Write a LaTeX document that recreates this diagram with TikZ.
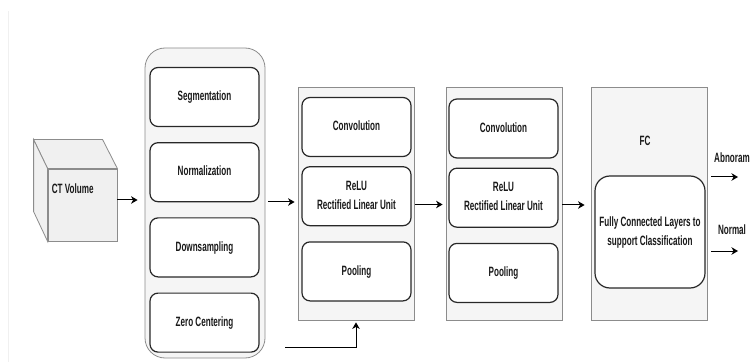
\documentclass[tikz,border=0pt]{standalone}
\usepackage{fontspec}
\setmainfont{Liberation Sans}
\usepackage{graphicx}
\usetikzlibrary{positioning,calc,arrows.meta}
\newcommand{\nar}[1]{\scalebox{0.6}[1]{\begin{tabular}{@{}c@{}}#1\end{tabular}}}
\definecolor{panelfill}{RGB}{245,245,245}
\definecolor{panelline}{RGB}{140,140,140}
\definecolor{boxline}{RGB}{40,40,40}
\definecolor{cubefill}{RGB}{240,240,240}
\definecolor{inktext}{RGB}{25,25,25}

\begin{document}
\begin{tikzpicture}[x=1pt, y=1pt,
  txt/.style={font=\fontsize{13.5}{19}\selectfont\bfseries, text=inktext, inner sep=0pt},
  panel/.style={draw=panelline, line width=0.8pt, fill=panelfill, inner sep=0pt},
  prepbox/.style={panel, rounded corners=20pt, minimum width=120pt, minimum height=310pt},
  layer/.style={panel, minimum width=116pt, minimum height=233pt},
  op/.style={txt, draw=boxline, line width=1.2pt, fill=white, rounded corners=8pt, minimum width=109pt, minimum height=59pt},
  cube/.style={draw=panelline, line width=0.8pt, fill=cubefill},
  arr/.style={-{Stealth[length=6.5pt, width=7.5pt, inset=2pt]}, line width=1pt, black}]
\useasboundingbox (0,0) rectangle (750,362);
\draw[black!6, line width=0.8pt] (8,351) -- (8,0);

% ---- input volume ----
\node[cube, minimum width=69pt, minimum height=72pt] (ct) at (82.5,157) {};
\draw[cube] (ct.north west) -- +(-14,29) -- +(55,29) -- (ct.north east) -- cycle;
\draw[cube] (ct.north west) -- +(-14,29) -- +(-14,-43) -- (ct.south west) -- cycle;
\node[txt, anchor=west] (ctlab) at ($(ct.north west)+(4,-21)$) {\nar{CT Volume}};

% ---- preprocessing ----
\node[prepbox] (prep) at (205,159) {};
\node[op] (seg) at (204.5,265) {\nar{Segmentation}};
\node[op, below=15pt of seg] (norm) {\nar{Normalization}};
\node[op, below=15pt of norm] (down) {\nar{Downsampling}};
\node[op, below=15pt of down] (zero) {\nar{Zero Centering}};

% ---- conv blocks ----
\node[layer] (blk1) at (356,158.5) {};
\node[op] (conv1) at (356.5,235) {\nar{Convolution}};
\node[op, below=9pt of conv1] (relu1) {\nar{ReLU\\Rectified Linear Unit}};
\node[op, below=15pt of relu1] (pool1) {\nar{Pooling}};

\node[layer] (blk2) at (504,158) {};
\node[op] (conv2) at (503.5,233.5) {\nar{Convolution}};
\node[op, below=9pt of conv2] (relu2) {\nar{ReLU\\Rectified Linear Unit}};
\node[op, below=15pt of relu2] (pool2) {\nar{Pooling}};

% ---- classifier ----
\node[layer] (fc) at (649,158) {};
\node[txt] (fclab) at (645,220) {\nar{FC}};
\node[op, rounded corners=15pt, minimum width=110pt, minimum height=112pt] (dense) at (650,130) {\nar{Fully Connected Layers to\\support Classification}};

% ---- flow ----
\draw[arr, shorten >=7pt] ([yshift=5pt]ct.east) -- ([yshift=5pt]ct.east -| prep.west);
\draw[arr, shorten <=3pt, shorten >=3pt] ([yshift=1pt]prep.east) -- ([yshift=1pt]prep.east -| blk1.west);
\draw[arr, shorten <=1pt, shorten >=3pt] ([yshift=-1pt]blk1.east) -- ([yshift=-1pt]blk1.east -| blk2.west);
\draw[arr, shorten >=6pt] ([yshift=-1pt]blk2.east) -- ([yshift=-1pt]blk2.east -| fc.west);
\coordinate (back) at (285,15);
\draw[arr, shorten >=2pt] (back) -| (blk1.south);

% ---- outputs ----
\coordinate (outA) at (711,185);
\coordinate (outN) at (711,111);
\draw[arr] (outA) -- ++(27,0);
\draw[arr] (outN) -- ++(27,0);
\node[txt] (abn) at (732,203) {\nar{Abnoram}};
\node[txt] (nrm) at (732,131) {\nar{Normal}};
\end{tikzpicture}
\end{document}
